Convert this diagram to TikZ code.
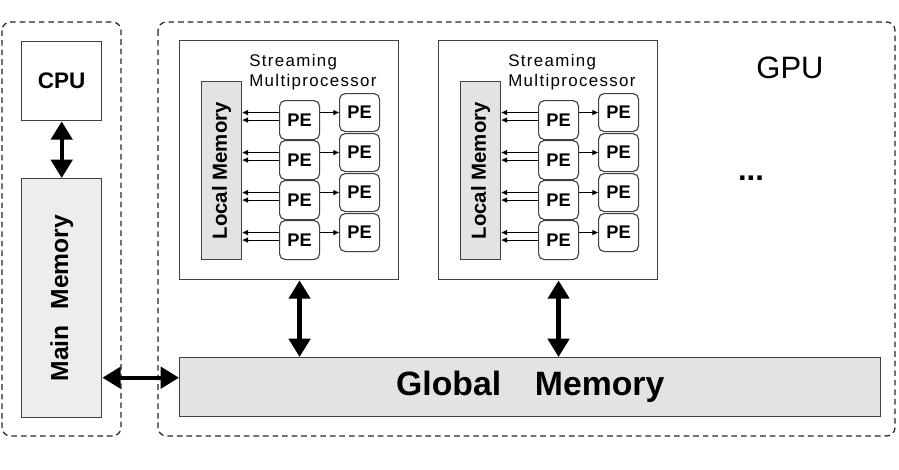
\documentclass[tikz,border=0pt]{standalone}
\usepackage{fontspec}
\usepackage{graphicx}
\setmainfont{Liberation Sans}
\usetikzlibrary{arrows.meta,positioning}

\newcommand{\pxu}{0.025cm}

\begin{document}
\begin{tikzpicture}[
    x=0.025cm, y=-0.025cm,
    box/.style={draw=black!75, line width=1pt, inner sep=0pt, anchor=north west},
    mem/.style={box, fill=black!11},
    pe/.style={box, rounded corners=4pt, line width=0.8pt,
      minimum width=40*\pxu, minimum height=39*\pxu,
      font=\fontsize{13}{13}\selectfont\bfseries},
    frame/.style={draw=black!85, line width=0.9pt,
      dash pattern=on 4pt off 2.8pt, rounded corners=6pt},
    bus/.style={line width=3pt,
      {Triangle[width=15pt,length=13pt]}-{Triangle[width=15pt,length=13pt]}},
    link/.style={line width=0.7pt, -{Triangle[width=3.5pt,length=4pt]}},
  ]
    \useasboundingbox (0,0) rectangle (899,469);

    % host side
    \draw[frame] (2,22) rectangle (121,436);
    \node[box, minimum width=80*\pxu, minimum height=79*\pxu,
      font=\fontsize{16}{16}\selectfont\bfseries] (cpu) at (21,41) {CPU};
    \node[mem, fill=black!7, minimum width=80*\pxu, minimum height=239*\pxu,
      font=\fontsize{17.5}{17.5}\selectfont\bfseries] (mainmem) at (21,178)
      {\rotatebox{90}{Main\hspace{0.65em}Memory}};
    \draw[bus] (cpu.south) -- (mainmem.north);

    % device side
    \draw[frame] (158,22) rectangle (895,436);
    \node[font=\fontsize{22}{22}\selectfont] (gpulabel) at (790,68) {GPU};
    \node[anchor=base, font=\fontsize{22}{22}\selectfont\bfseries] (more) at (751,180.5) {...};
    \node[mem, minimum width=701*\pxu, minimum height=59*\pxu,
      font=\fontsize{24}{24}\selectfont\bfseries] (global) at (179,357)
      {Global\quad Memory};
    \draw[bus] ([yshift=9.5*\pxu]global.west -| mainmem.east)
      -- ([yshift=9.5*\pxu]global.west);

    \foreach \s/\x in {1/179, 2/438} {
      \node[box, minimum width=219*\pxu, minimum height=239*\pxu] (sm\s) at (\x,40) {};
      \node[anchor=north west, align=left, inner sep=0pt,
        font=\fontsize{12}{14.2}\selectfont\addfontfeatures{LetterSpace=8}]
        (smlabel\s) at ({\x+70},54) {Streaming\\Multiprocessor};
      \node[mem, minimum width=40*\pxu, minimum height=178*\pxu,
        font=\fontsize{14.5}{14.5}\selectfont\bfseries] (lm\s) at ({\x+22},81)
        {\rotatebox{90}{Local Memory}};
      \foreach \r in {1,...,4} {
        \node[pe] (pe\s\r) at ({\x+100},{60+40*\r}) {PE};
        \node[pe, minimum height=38*\pxu] (po\s\r) at ({\x+160},{53+40*\r}) {PE};
        \draw[link] (po\s\r.west -| pe\s\r.east) -- (po\s\r.west);
        \draw[link] (po\s\r.west -| pe\s\r.west) -- (po\s\r.west -| lm\s.east);
        \draw[link, {Triangle[width=3.5pt,length=4pt]}-] (lm\s.east |- pe\s\r.west) -- (pe\s\r.west);
      }
      \draw[bus] (sm\s.south -| pe\s4.center) -- (global.north -| pe\s4.center);
    }
  \end{tikzpicture}
\end{document}
